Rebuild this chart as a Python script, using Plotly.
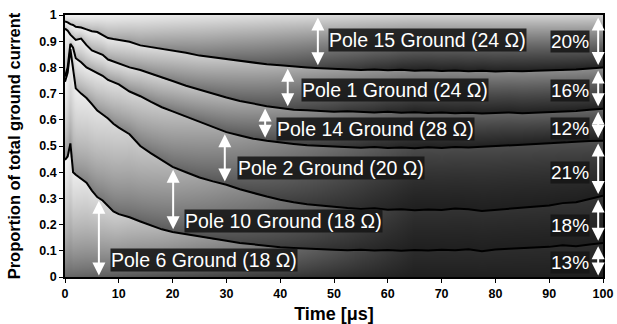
import numpy as np
import plotly.graph_objects as go

# ---------------- data (cumulative proportion boundaries) ----------------
time_us = [0, 0.5, 1, 1.5, 2, 3, 4, 5, 6, 7, 8, 9, 10, 12, 14, 16, 18, 20, 22.5, 25,
           27.5, 30, 32.5, 35, 37.5, 40, 42.5, 45, 47.5, 50, 52.5, 55, 57.5, 60, 62.5,
           65, 67.5, 70, 72.5, 75, 77.5, 80, 82.5, 85, 87.5, 90, 92.5, 95, 97.5, 100]

# top of Pole 6 band
cum_pole6 = [0.447, 0.46, 0.51, 0.40, 0.39, 0.375, 0.36, 0.33, 0.305, 0.292, 0.27, 0.25, 0.24,
             0.228, 0.212, 0.196, 0.182, 0.172, 0.163, 0.155, 0.145, 0.138, 0.13, 0.124, 0.118,
             0.114, 0.111, 0.108, 0.106, 0.104, 0.102, 0.104, 0.101, 0.103, 0.100, 0.103, 0.101,
             0.104, 0.102, 0.106, 0.098, 0.105, 0.108, 0.110, 0.112, 0.115, 0.121, 0.117, 0.124, 0.13]
# top of Pole 10 band
cum_pole10 = [0.745, 0.78, 0.87, 0.80, 0.72, 0.70, 0.683, 0.66, 0.635, 0.62, 0.605, 0.585, 0.57,
              0.545, 0.50, 0.472, 0.445, 0.42, 0.40, 0.38, 0.365, 0.352, 0.335, 0.32, 0.307,
              0.295, 0.285, 0.278, 0.272, 0.268, 0.263, 0.260, 0.262, 0.257, 0.259, 0.255, 0.258,
              0.256, 0.261, 0.259, 0.252, 0.256, 0.262, 0.265, 0.268, 0.273, 0.282, 0.285, 0.298, 0.31]
# top of Pole 2 band
cum_pole2 = [0.765, 0.80, 0.89, 0.875, 0.835, 0.82, 0.80, 0.79, 0.777, 0.768, 0.752, 0.742, 0.735,
             0.708, 0.69, 0.668, 0.648, 0.632, 0.612, 0.592, 0.572, 0.553, 0.54, 0.528, 0.52,
             0.513, 0.508, 0.503, 0.50, 0.497, 0.495, 0.493, 0.496, 0.492, 0.494, 0.491, 0.495,
             0.492, 0.496, 0.494, 0.497, 0.499, 0.503, 0.505, 0.508, 0.511, 0.515, 0.517, 0.519, 0.52]
# top of Pole 14 band
cum_pole14 = [0.948, 0.94, 0.925, 0.915, 0.905, 0.91, 0.885, 0.865, 0.855, 0.848, 0.83, 0.822, 0.815,
              0.80, 0.79, 0.775, 0.76, 0.748, 0.73, 0.714, 0.70, 0.685, 0.672, 0.662, 0.652,
              0.645, 0.638, 0.636, 0.633, 0.631, 0.633, 0.630, 0.628, 0.631, 0.627, 0.629, 0.626,
              0.628, 0.625, 0.627, 0.624, 0.626, 0.628, 0.625, 0.627, 0.629, 0.631, 0.634, 0.638, 0.642]
# top of Pole 1 band
cum_pole1 = [0.975, 0.972, 0.965, 0.962, 0.955, 0.952, 0.945, 0.938, 0.935, 0.925, 0.912, 0.908, 0.905,
             0.898, 0.884, 0.878, 0.872, 0.865, 0.856, 0.845, 0.838, 0.833, 0.826, 0.818, 0.812,
             0.808, 0.803, 0.800, 0.797, 0.795, 0.792, 0.790, 0.792, 0.789, 0.791, 0.787, 0.789,
             0.786, 0.788, 0.785, 0.787, 0.784, 0.786, 0.785, 0.787, 0.788, 0.790, 0.792, 0.796, 0.80]

pole_names = ["Pole 6 Ground (18 Ω)", "Pole 10 Ground (18 Ω)", "Pole 2 Ground (20 Ω)",
              "Pole 14 Ground (28 Ω)", "Pole 1 Ground (24 Ω)", "Pole 15 Ground (24 Ω)"]
pole_share_pct = [13, 18, 21, 12, 16, 20]

# label / arrow placement (time positions)
label_x = [8.3, 22.1, 31.9, 39.3, 43.9, 48.8]
label_y = [0.063, 0.212, 0.416, 0.565, 0.714, 0.905]
arrow_x = [6.3, 20.1, 29.7, 37.2, 41.4, 47.0]
pct_y = [0.057, 0.197, 0.397, 0.565, 0.71, 0.897]
right_arrow_x = 99.1
pct_x = 97.6

# ---------------- figure ----------------
t = np.array(time_us, dtype=float)
curves = [cum_pole6, cum_pole10, cum_pole2, cum_pole14, cum_pole1]

# gradient background built from the band boundaries
tg = np.linspace(0, 100, 321)
yg = np.linspace(0, 1, 263)
bounds = [np.zeros_like(tg)] + [np.interp(tg, t, c) for c in curves] + [np.ones_like(tg)]
Y = yg[:, None]
TT = tg[None, :]
s = np.clip(TT / 65.0, 0, 1) ** 0.85
top_b = (1 - s) * 0.96 + s * (0.17 + 0.66 * Y ** 2.3)
bot_b = (1 - s) * (0.40 + 0.38 * Y) + s * 0.12
z = np.zeros((len(yg), len(tg)))
for k in range(6):
    lo = bounds[k][None, :]
    hi = bounds[k + 1][None, :]
    r = np.clip((Y - lo) / np.maximum(hi - lo, 1e-6), 0, 1)
    val = bot_b + (top_b - bot_b) * r ** 0.8
    mask = (Y >= lo) & (Y <= hi)
    z = np.where(mask, val, z)

fig = go.Figure()
fig.add_trace(go.Heatmap(x=tg, y=yg, z=z, colorscale=[[0, "black"], [1, "white"]],
                         zmin=0, zmax=1, showscale=False, hoverinfo="skip", zsmooth="fast"))
for c in curves:
    fig.add_trace(go.Scatter(x=time_us, y=c, mode="lines",
                             line=dict(color="black", width=2), hoverinfo="skip", showlegend=False))

font_fam = "Liberation Sans, Arial, sans-serif"
ann = []


def arrow(x, y0, y1):
    return dict(x=x, y=y0, ax=x, ay=y1, xref="x", yref="y", axref="x", ayref="y",
                text="", showarrow=True, arrowhead=2, startarrowhead=2, arrowside="end+start",
                arrowsize=1.3, startarrowsize=1.3, arrowwidth=2, arrowcolor="white",
                standoff=0, startstandoff=0)


for k in range(6):
    lo_arr = bounds[k]
    hi_arr = bounds[k + 1]
    xa = arrow_x[k]
    lo = float(np.interp(xa, tg, lo_arr))
    hi = float(np.interp(xa, tg, hi_arr))
    ann.append(arrow(xa, hi - 0.01, lo + (0.0 if k == 0 else 0.005)))
    lo_r = float(np.interp(right_arrow_x, tg, lo_arr))
    hi_r = float(np.interp(right_arrow_x, tg, hi_arr))
    ann.append(arrow(right_arrow_x, hi_r - 0.01, lo_r + (0.0 if k == 0 else 0.005)))
    ann.append(dict(x=label_x[k], y=label_y[k], xref="x", yref="y", text=pole_names[k],
                    showarrow=False, xanchor="left", yanchor="middle",
                    font=dict(color="white", size=19.5, family=font_fam),
                    bgcolor="rgba(22,22,22,0.88)", borderpad=0))
    ann.append(dict(x=pct_x, y=pct_y[k], xref="x", yref="y", text=f"{pole_share_pct[k]}%",
                    showarrow=False, xanchor="right", yanchor="middle",
                    font=dict(color="white", size=19, family=font_fam),
                    bgcolor="rgba(22,22,22,0.88)", borderpad=0))

fig.update_layout(
    width=617, height=324,
    margin=dict(l=65, r=14, t=15, b=47),
    paper_bgcolor="white", plot_bgcolor="white",
    showlegend=False,
    annotations=ann,
    font=dict(family=font_fam, color="black"),
)
fig.update_xaxes(range=[0, 100], dtick=10, tick0=0, showgrid=False, zeroline=False,
                 ticks="outside", ticklen=4, tickcolor="black", automargin=False,
                 showline=True, mirror=True, linecolor="black", linewidth=1.5,
                 tickfont=dict(size=12.5, weight="bold", family=font_fam),
                 title=dict(text="Time [μs]", font=dict(size=18, weight="bold", family=font_fam)))
fig.update_yaxes(range=[0, 1], dtick=0.1, tick0=0, showgrid=False, zeroline=False,
                 ticks="outside", ticklen=4, tickcolor="black", automargin=False,
                 showline=True, mirror=True, linecolor="black", linewidth=1.5,
                 tickfont=dict(size=12.5, weight="bold", family=font_fam),
                 title=dict(text="Proportion of total ground current",
                            font=dict(size=16.5, weight="bold", family=font_fam)))

fig.write_html("out.html")
